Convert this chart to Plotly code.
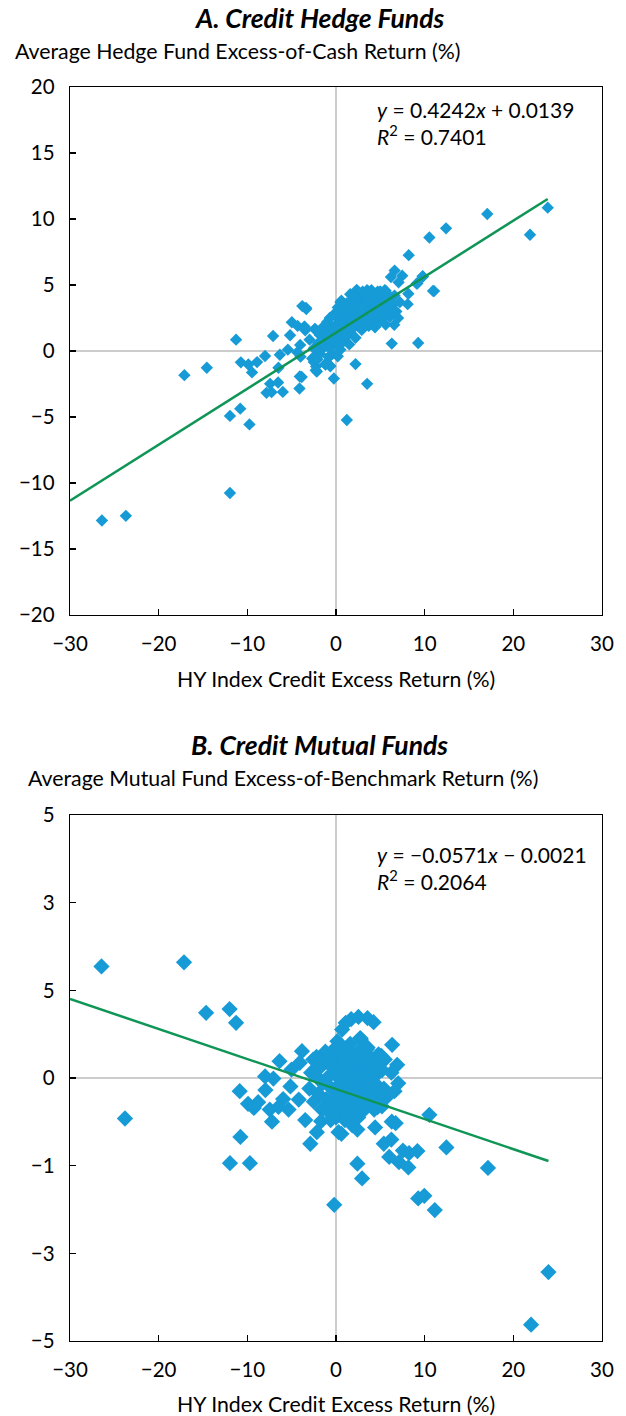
import plotly.graph_objects as go

W, H = 626, 1416

# ---------------- Panel A data: HY index credit excess return vs hedge fund excess-of-cash return (%)
a_x = [-26.4, -23.7, -11.96, -17.1, -14.57, -11.27, -10.73, -9.88, -9.47, -8.9, -8.0, -7.1, -6.49, -6.33,
       -7.43, -6.53, -7.84, -7.27, -6.0, -5.43, -5.18, -4.98, -4.33, -3.8, -3.39, -3.55, -3.47, -4.08,
       -4.12, -4.04, -4.37, -4.0, -10.8, -11.96, -9.76, 1.22, -0.24, 2.2, 3.51, -2.37, -2.98, -2.69,
       -2.08, -2.24, -2.16, -1.18, -0.69, -0.78, -0.94, 0.61, 2.33, 3.59, 4.98, 5.59, 6.29, 9.27, 6.61,
       6.2, 7.47, 7.06, 8.2, 9.8, 9.18, 8.16, 8.08, 11.06, 10.53, 12.41, 17.06, 21.88, 23.88, 6.08, 6.57,
       -3.35, -3.57, -2.4, -0.83, -2.2, -2.5, -2.29, -1.2, -0.64, -3.87, 10.94, 9.77, 9.1,
       -1.5, -1.2, -1.0, -0.8, -0.6, -0.5, -0.3, -0.2, 0.0, 0.1, 0.2, 0.3, 0.4, 0.5, 0.6, 0.7, 0.8, 0.9,
       1.0, 1.0, 1.1, 1.2, 1.3, 1.4, 1.5, 1.6, 1.7, 1.8, 1.9, 2.0, 2.1, 2.2, 2.3, 2.4, 2.5, 2.6, 2.7,
       2.8, 2.9, 3.0, 3.1, 3.2, 3.3, 3.4, 3.5, 3.6, 3.7, 3.8, 3.9, 4.0, 4.1, 4.2, 4.3, 4.4, 4.5, 4.6,
       4.7, 4.8, 4.9, 5.0, 5.1, 5.2, 5.3, 5.4, 5.5, 5.6, 5.8, 6.0, 6.2, 6.4, 6.6, -2.0, -1.8, -2.5,
       -0.4, 0.2, 0.5, 1.5, 2.2, 0.3, 1.2, 0.8, 2.0, 3.0, 4.0, 5.0, 5.5, 0.0, -0.5, 1.6, 2.6, 3.6,
       6.8, 7.0, 7.2, 0.1, 0.9, 1.4, 1.9, 2.4, 2.9, 3.4, 3.9, 4.4, 4.9, 5.4, 5.9, 0.6, 1.1, 1.6, 2.1,
       2.6, 3.1, 3.6, 4.1, 4.6, 5.1, -1.1, -0.1, 0.4, 1.3, 2.7, 3.3, 4.3, 5.7,
       -1.5, -1.0, -0.7, -1.8, -1.3, -0.9, -0.2, 0.2, 0.5]
a_y = [-12.84, -12.49, -10.76, -1.83, -1.27, 0.86, -0.86, -1.02, -1.62, -0.84, -0.38, 1.14, -1.27, -0.28,
       -2.49, -2.39, -3.17, -3.12, -3.1, 0.1, 1.19, 2.18, 1.9, 3.4, 3.27, 1.85, 1.57, -1.93,
       -2.84, 0.46, -0.1, -0.43, -4.37, -4.92, -5.56, -5.23, -2.08, -0.99, -2.49, 1.68, 0.86, -0.56,
       -0.63, -1.17, -1.55, -1.02, -1.09, -0.46, 1.9, 3.81, 4.62, 4.54, 4.49, 4.57, 0.56, 0.61, 6.09,
       5.61, 5.71, 5.2, 7.26, 5.63, 5.13, 4.34, 3.55, 4.54, 8.6, 9.29, 10.38, 8.81, 10.86, 2.59, 1.98,
       3.18, 1.82, 1.64, -0.45, -0.45, -0.83, -1.46, -1.0, -1.16, -1.97, 4.55, 5.66, 5.1,
       0.2, 0.6, 0.9, 0.3, 1.1, 0.5, 1.4, 0.8, 1.2, 0.4, 1.8, 2.4, 1.0, 2.0, 1.5, 2.8, 0.7, 2.2,
       3.0, 1.7, 2.5, 1.2, 3.4, 2.0, 2.7, 1.5, 3.8, 2.3, 3.1, 1.8, 4.2, 2.6, 3.5, 2.0, 4.5, 3.0, 2.4,
       3.9, 1.6, 3.3, 4.3, 2.7, 3.7, 2.2, 4.6, 3.1, 1.9, 4.0, 2.8, 3.5, 4.4, 2.4, 3.2, 1.8, 3.9, 2.9,
       4.5, 3.4, 2.2, 4.1, 3.0, 3.7, 2.5, 4.3, 3.3, 2.0, 3.8, 2.9, 4.0, 3.5, 4.2, 0.6, -0.2, 0.2,
       -0.2, -0.4, 0.1, 0.5, 1.0, 3.0, 3.6, 3.3, 4.0, 4.5, 4.6, 4.5, 4.6, 2.0, 1.8, 4.3, 3.8, 4.1,
       3.0, 2.5, 3.7, 1.0, 1.4, 2.4, 2.7, 3.2, 2.3, 2.9, 3.2, 3.6, 2.8, 3.9, 3.3, 1.9, 1.1, 2.9, 2.6,
       2.0, 3.7, 2.6, 3.0, 3.4, 2.6, 0.4, 0.6, 1.6, 1.3, 3.3, 2.0, 2.8, 4.4,
       1.8, 2.2, 2.5, 1.2, 1.5, 1.6, 2.8, 3.3, 3.7]
a_slope, a_intercept = 0.4242, 1.39
a_eq = ["<i>y</i> = 0.4242<i>x</i> + 0.0139", "<i>R</i><sup>2</sup> = 0.7401"]

# ---------------- Panel B data: HY index credit excess return vs mutual fund excess-of-benchmark return (%)
b_x = [-26.45, -17.14, -23.8, -14.65, -12.0, -11.27, -10.86, -11.96, -9.71, -10.78, -9.92, -9.27, -8.78,
       -7.96, -8.0, -7.06, -6.37, -7.47, -7.22, -6.49, -5.96, -5.35, -5.14, -5.02, -3.84, -4.08, -2.57,
       -1.84, -0.94, 0.16, 0.69, 1.1, 1.71, 2.53, 3.55, 4.24, 2.73, 3.55, 6.33, 6.9, 5.1, 6.24, 7.02,
       6.6, -3.47, -2.9, -2.16, -1.67, 0.29, 0.61, 1.84, 2.41, 4.41, 6.29, 6.73, 6.24, 5.39, 6.0, 7.1,
       7.55, 8.24, 9.18, 8.16, 10.53, 12.45, 17.14, 2.41, 2.94, -0.2, 9.27, 9.96, 11.14, 23.96, 22.0,
       4.65, 5.18, 5.8, -4.2,
       -3.0, -2.8, -2.5, -2.3, -2.0, -1.8, -1.6, -1.5, -1.3, -1.1, -1.0, -0.8, -0.7, -0.5, -0.4, -0.3,
       -0.2, 0.0, 0.1, 0.2, 0.3, 0.4, 0.5, 0.6, 0.7, 0.8, 0.9, 1.0, 1.1, 1.2, 1.3, 1.4, 1.5, 1.6, 1.7,
       1.8, 1.9, 2.0, 2.1, 2.2, 2.3, 2.4, 2.5, 2.6, 2.7, 2.8, 2.9, 3.0, 3.1, 3.2, 3.3, 3.4, 3.5, 3.6,
       3.7, 3.8, 3.9, 4.0, 4.1, 4.2, 4.3, 4.4, 4.5, 4.6, 4.8, 5.0, 5.2, 5.4, -0.2, 0.3, 0.6, 1.6, 2.8,
       3.5, 0.0, 1.0, 2.5, -1.2, -2.2, 5.2, 4.8, 5.5, 1.4, 0.5, 2.6, 3.3, -0.6, 1.7]
b_y = [2.12, 2.2, -0.77, 1.24, 1.31, 1.05, -0.25, -1.62, -1.62, -1.12, -0.49, -0.57, -0.46,
       -0.23, 0.03, -0.01, 0.32, -0.6, -0.83, -0.55, -0.4, -0.6, -0.16, 0.16, 0.51, 0.29, 0.35,
       0.36, 0.35, 0.7, 0.92, 1.05, 1.12, 1.16, 1.14, 1.06, 0.76, 0.58, 0.63, 0.25, 0.42, 0.1, -0.1,
       -0.25, -0.8, -1.25, -1.03, -0.82, -1.03, -1.06, -0.9, -0.98, -0.94, -0.83, -0.86, -1.17, -1.25, -1.5, -1.6,
       -1.38, -1.43, -1.39, -1.7, -0.7, -1.32, -1.71, -1.63, -1.91, -2.41, -2.29, -2.24, -2.51, -3.69, -4.69,
       -0.56, -0.54, -0.35, -0.41,
       -0.2, 0.1, -0.45, 0.05, -0.3, 0.2, -0.6, -0.1, 0.3, -0.4, 0.0, -0.65, 0.25, -0.2, 0.45, -0.5,
       0.1, -0.35, 0.3, -0.7, 0.0, -0.25, 0.5, -0.55, 0.15, -0.1, 0.35, -0.45, 0.05, -0.3, 0.55, -0.6,
       0.2, -0.15, 0.45, -0.5, 0.1, -0.25, 0.3, -0.7, 0.0, -0.4, 0.5, -0.15, 0.2, -0.55, 0.05, -0.3,
       0.35, -0.6, -0.05, 0.25, -0.4, 0.1, -0.2, 0.4, -0.5, 0.0, -0.3, 0.2, -0.6, -0.1, 0.3, -0.35,
       0.1, -0.45, 0.15, -0.2, 0.55, 0.6, 0.45, 0.65, 0.74, 0.55, -0.75, -0.8, -0.75, 0.5, 0.4, 0.4,
       0.45, 0.35, 0.0, -0.1, 0.1, -0.2, -0.8, -0.35]
b_slope, b_intercept = -0.0571, -0.21
b_eq = ["<i>y</i> = \u22120.0571<i>x</i> \u2212 0.0021", "<i>R</i><sup>2</sup> = 0.2064"]

x_ticks = [-30, -20, -10, 0, 10, 20, 30]
x_ticktext = ["\u221230", "\u221220", "\u221210", "0", "10", "20", "30"]
a_yticks = [-20, -15, -10, -5, 0, 5, 10, 15, 20]
a_yticktext = ["\u221220", "\u221215", "\u221210", "\u22125", "0", "5", "10", "15", "20"]
b_yticks = [-5, -10 / 3, -5 / 3, 0, 5 / 3, 10 / 3, 5]
b_yticktext = ["\u22125", "\u22123", "\u22121", "0", "5", "3", "5"]

titles = ["<b><i>A. Credit Hedge Funds</i></b>", "<b><i>B. Credit Mutual Funds</i></b>"]
y_titles = ["Average Hedge Fund Excess-of-Cash Return (%)",
            "Average Mutual Fund Excess-of-Benchmark Return (%)"]
x_title = "HY Index Credit Excess Return (%)"

BLUE = "#179bd7"
GREEN = "#0f9556"
FONT = "Lato"


def px(x):
    return x / W


def py(y):
    return 1 - y / H


fig = go.Figure()

fig.add_trace(go.Scatter(x=a_x, y=a_y, mode="markers", xaxis="x", yaxis="y",
                         marker=dict(symbol="diamond", size=9.5, color=BLUE), showlegend=False))
a_lx = [-30, max(a_x)]
fig.add_trace(go.Scatter(x=a_lx, y=[a_slope * v + a_intercept for v in a_lx], mode="lines",
                         xaxis="x", yaxis="y", line=dict(color=GREEN, width=2.5), showlegend=False))

fig.add_trace(go.Scatter(x=b_x, y=b_y, mode="markers", xaxis="x2", yaxis="y2",
                         marker=dict(symbol="diamond", size=12.5, color=BLUE), showlegend=False))
b_lx = [-30, max(b_x)]
fig.add_trace(go.Scatter(x=b_lx, y=[b_slope * v + b_intercept for v in b_lx], mode="lines",
                         xaxis="x2", yaxis="y2", line=dict(color=GREEN, width=2.5), showlegend=False))

axis_common = dict(showline=True, mirror=True, linecolor="black", linewidth=1.3,
                   ticks="inside", ticklen=6, tickwidth=1.3, tickcolor="black",
                   showgrid=False, zeroline=True, zerolinecolor="#cccccc", zerolinewidth=1.3,
                   automargin=False,
                   tickfont=dict(family=FONT, size=20.5, color="black"), ticklabelstandoff=10)

xdom = [px(70), px(602)]
fig.update_layout(
    template="none",
    width=W, height=H,
    margin=dict(l=0, r=0, t=0, b=0),
    paper_bgcolor="white", plot_bgcolor="white",
    font=dict(family=FONT, color="black"),
    xaxis=dict(domain=xdom, range=[-30, 30], tickvals=x_ticks, ticktext=x_ticktext,
               anchor="y", **axis_common),
    yaxis=dict(domain=[py(615), py(87)], range=[-20, 20], tickvals=a_yticks, ticktext=a_yticktext,
               anchor="x", **axis_common),
    xaxis2=dict(domain=xdom, range=[-30, 30], tickvals=x_ticks, ticktext=x_ticktext,
                anchor="y2", **axis_common),
    yaxis2=dict(domain=[py(1341), py(815)], range=[-5, 5], tickvals=b_yticks, ticktext=b_yticktext,
                anchor="x2", **axis_common),
)

ann = []
def add_text(text, x, y, size, xanchor="left"):
    ann.append(dict(text=text, x=px(x), y=py(y), xref="paper", yref="paper", showarrow=False,
                    xanchor=xanchor, yanchor="middle", font=dict(family=FONT, size=size, color="black")))

add_text(titles[0], 319, 18, 26.5, "center")
add_text(titles[1], 319, 745, 26.5, "center")
add_text(y_titles[0], 13, 51, 21.3)
add_text(y_titles[1], 26, 778, 21.3)
add_text(x_title, 336, 679, 21.3, "center")
add_text(x_title, 336, 1404, 21.3, "center")
add_text(a_eq[0], 375, 110, 21)
add_text(a_eq[1], 375, 135, 21)
add_text(b_eq[0], 375, 855, 21)
add_text(b_eq[1], 375, 880, 21)

fig.update_layout(annotations=ann)
fig.write_html("out.html", config={"displayModeBar": False, "staticPlot": True})

# remove the browser's default 8px body margin so the figure sits at the page origin
with open("out.html", "r", encoding="utf-8") as f:
    html = f.read()
html = html.replace("<body>", '<body style="margin:0;padding:0;overflow:hidden">', 1)
with open("out.html", "w", encoding="utf-8") as f:
    f.write(html)
